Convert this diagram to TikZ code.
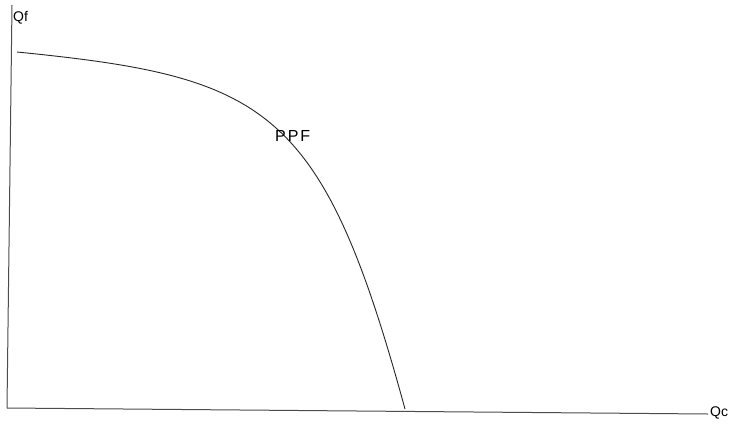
\documentclass[tikz,border=0pt]{standalone}
\usepackage{fontspec}
\setmainfont{Liberation Sans}
\newfontfamily\spacedfont[LetterSpace=12]{Liberation Sans}
\begin{document}
\begin{tikzpicture}[x=1pt,y=-1pt,
  axis/.style={draw=black!70,line width=1pt},
  lbl/.style={inner sep=0pt,font=\fontsize{14}{16}\selectfont},
  curve/.style={draw=black!85,line width=0.9pt}]
\useasboundingbox (0,0) rectangle (738,423);
\coordinate (ytop) at (12,5);
\coordinate (orig) at (7,408);
\coordinate (xend) at (708,414);
\draw[axis] (ytop) -- (orig);
\draw[axis] (orig) -- (xend);
\node[lbl,anchor=west] (qf) at (13,18) {Qf};
\node[lbl,anchor=west] (qc) at (710,413) {Qc};
\coordinate (cs) at (17,52);
\coordinate (ce) at (405,409);
\draw[curve] (cs) .. controls (267,77) and (322,105) .. (ce);
\node[inner sep=0pt,anchor=west,font=\fontsize{16}{18}\selectfont\spacedfont] (ppf) at (275,136) {PPF};
\end{tikzpicture}
\end{document}
